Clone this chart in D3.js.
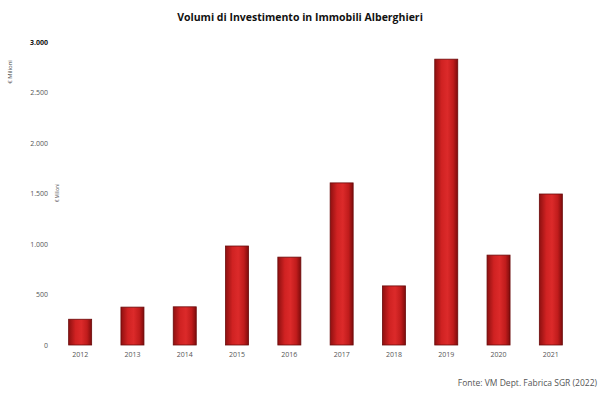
<!DOCTYPE html>
<html>
<head>
<meta charset="utf-8">
<script src="https://cdn.jsdelivr.net/npm/d3@7"></script>
<style>
  html, body { margin: 0; padding: 0; background: #fff; }
  svg { display: block; font-family: "Open Sans", "Liberation Sans", sans-serif; }
</style>
</head>
<body>
<svg id="chart" width="600" height="393"></svg>
<script>
// Hotel real-estate investment volumes, € millions
const years = ["2012", "2013", "2014", "2015", "2016", "2017", "2018", "2019", "2020", "2021"];
const volumes = [255, 375, 378, 980, 870, 1605, 585, 2830, 890, 1495];
const yTicks = [0, 500, 1000, 1500, 2000, 2500, 3000];
const yTickLabels = ["0", "500", "1.000", "1.500", "2.000", "2.500", "3.000"];

const svg = d3.select("#chart");
const margin = { left: 54, right: 22, top: 42, bottom: 48 };
const W = 600, H = 393;

const x = d3.scaleBand()
  .domain(years)
  .range([54, 577])
  .paddingInner(0.56)
  .paddingOuter(0.28);

const y = d3.scaleLinear()
  .domain([0, 3000])
  .range([345, 42]);

// Bar shading: dark edges, bright centre
const defs = svg.append("defs");
const grad = defs.append("linearGradient").attr("id", "barGrad")
  .attr("x1", "0%").attr("x2", "100%").attr("y1", "0%").attr("y2", "0%");
[["0%", "#8e1010"], ["30%", "#d02222"], ["55%", "#dc2a2a"], ["80%", "#c01c1c"], ["100%", "#7e0c0c"]]
  .forEach(([o, c]) => grad.append("stop").attr("offset", o).attr("stop-color", c));

// Title
svg.append("text")
  .attr("x", 300).attr("y", 21)
  .attr("text-anchor", "middle")
  .attr("font-size", 10.5).attr("font-weight", "bold")
  .attr("fill", "#111")
  .text("Volumi di Investimento in Immobili Alberghieri");

// Y axis (labels only)
const yAxis = d3.axisLeft(y)
  .tickValues(yTicks)
  .tickFormat((d, i) => yTickLabels[i])
  .tickSize(0)
  .tickPadding(0);
const gy = svg.append("g").attr("transform", "translate(48,0)").call(yAxis);
gy.select(".domain").remove();
gy.selectAll("text")
  .attr("font-size", 7)
  .attr("fill", "#555")
  .attr("font-family", "Open Sans, sans-serif");
gy.selectAll("text").filter(d => d === 3000)
  .attr("fill", "#111").attr("font-weight", "bold");

// Axis titles
svg.append("text")
  .attr("transform", "translate(12,72) rotate(-90)")
  .attr("text-anchor", "middle")
  .attr("font-size", 6).attr("fill", "#444")
  .text("€ Milioni");
svg.append("text")
  .attr("transform", "translate(59,193) rotate(-90)")
  .attr("text-anchor", "middle")
  .attr("font-size", 4.5).attr("fill", "#444")
  .text("€ Milioni");

// Bars
svg.append("g").selectAll("rect")
  .data(years.map((yr, i) => ({ yr, v: volumes[i] })))
  .join("rect")
  .attr("x", d => x(d.yr))
  .attr("y", d => y(d.v))
  .attr("width", x.bandwidth())
  .attr("height", d => y(0) - y(d.v))
  .attr("fill", "url(#barGrad)")
  .attr("stroke", "#6a0a0a")
  .attr("stroke-width", 0.8);

// X axis (labels only)
const xAxis = d3.axisBottom(x).tickSize(0).tickPadding(0);
const gx = svg.append("g").attr("transform", "translate(0,352)").call(xAxis);
gx.select(".domain").remove();
gx.selectAll("text")
  .attr("font-size", 7)
  .attr("fill", "#555")
  .attr("font-family", "Open Sans, sans-serif");

// Source note
svg.append("text")
  .attr("x", 597).attr("y", 386)
  .attr("text-anchor", "end")
  .attr("font-size", 8.5).attr("fill", "#555")
  .text("Fonte: VM Dept. Fabrica SGR (2022)");
</script>
</body>
</html>
